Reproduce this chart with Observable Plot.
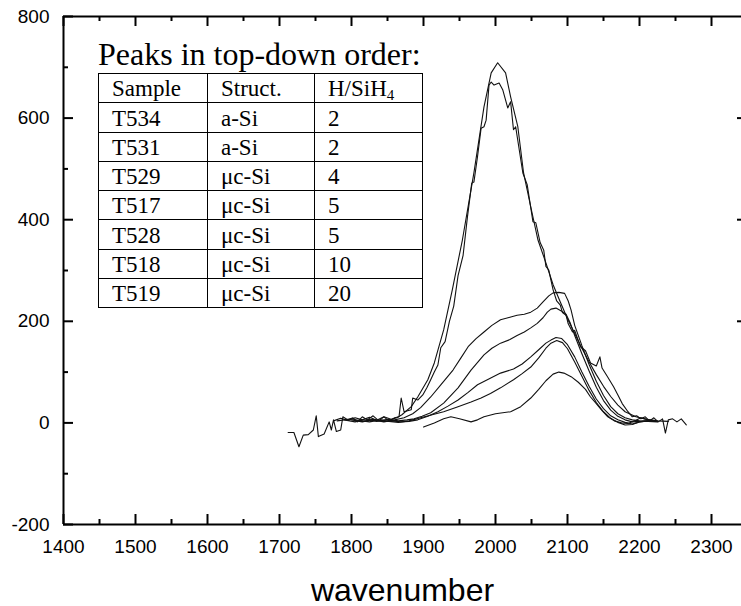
<!DOCTYPE html>
<html>
<head>
<meta charset="utf-8">
<script src="https://cdn.jsdelivr.net/npm/d3@7"></script>
<script src="https://cdn.jsdelivr.net/npm/@observablehq/plot@0.6"></script>
<style>
  body { margin: 0; background: #fff; }
  #wrap { position: relative; width: 741px; height: 606px; overflow: hidden; }
  #title { position: absolute; left: 98px; top: 38px; font-family: "Liberation Serif", "Times New Roman", serif; font-size: 32px; line-height: 32px; color: #000; white-space: nowrap; }
  #tbl { position: absolute; left: 98px; top: 73px; border-collapse: collapse; table-layout: fixed; font-family: "Liberation Serif", "Times New Roman", serif; font-size: 23px; color: #000; }
  #tbl td { border: 1px solid #000; padding: 0 0 0 13px; height: 29.25px; line-height: 27px; vertical-align: bottom; white-space: nowrap; box-sizing: border-box; }
  #tbl sub { font-size: 15px; line-height: 0; vertical-align: -4px; }
</style>
</head>
<body>
<div id="wrap">
  <div id="chart"></div>
  <div id="title">Peaks in top-down order:</div>
  <table id="tbl"></table>
</div>
<script>
// ---- data (wavenumber, absorption) ----
const T534 = [[1775,4],[1785,9],[1795,5],[1805,10],[1815,6],[1825,11],[1835,5],[1845,12],[1855,7],[1863,10],[1870,16],[1883,32],[1892,51],[1906,85],[1915,118],[1928,183],[1940,262],[1954,360],[1970,492],[1984,622],[1994,689],[2003,709],[2014,689],[2021,642],[2031,583],[2039,492],[2049,425],[2059,360],[2070,315],[2080,272],[2090,238],[2100,205],[2110,176],[2120,147],[2130,120],[2140,95],[2150,72],[2160,52],[2170,35],[2180,22],[2195,12],[2210,7],[2225,4],[2240,3]];
const T531 = [[1712,-19],[1720,-19],[1727,-47],[1733,-24],[1740,-23],[1747,-14],[1751,14],[1754,-27],[1762,-22],[1769,2],[1772,-14],[1775,6],[1779,-17],[1785,-14],[1788,12],[1795,6],[1802,10],[1808,2],[1815,12],[1822,6],[1830,14],[1838,4],[1845,12],[1852,4],[1860,10],[1866,12],[1869,49],[1873,22],[1883,26],[1885,49],[1892,45],[1899,55],[1905,70],[1910,85],[1915,100],[1920,114],[1924,148],[1930,160],[1936,200],[1942,230],[1948,290],[1955,330],[1961,405],[1967,472],[1970,474],[1975,524],[1980,580],[1984,583],[1987,596],[1991,665],[1994,671],[1998,665],[2005,669],[2010,656],[2017,620],[2021,632],[2025,577],[2028,583],[2038,492],[2044,469],[2052,396],[2056,394],[2062,355],[2067,340],[2070,308],[2074,301],[2077,281],[2080,262],[2085,240],[2090,232],[2093,217],[2098,212],[2101,195],[2107,179],[2110,182],[2118,150],[2125,142],[2132,118],[2140,112],[2145,130],[2148,108],[2156,90],[2164,71],[2170,55],[2176,38],[2184,22],[2190,12],[2196,14],[2202,8],[2208,12],[2214,4],[2220,10],[2226,2],[2232,8],[2236,-20],[2240,6],[2246,8],[2252,2],[2258,8],[2265,-4]];
const T529 = [[1780,4],[1800,8],[1815,3],[1830,6],[1845,2],[1860,6],[1873,10],[1885,18],[1896,30],[1910,51],[1924,75],[1941,104],[1952,128],[1962,150],[1973,166],[1984,179],[1995,192],[2007,203],[2020,208],[2030,212],[2040,214],[2049,218],[2058,226],[2066,238],[2074,250],[2080,256],[2088,257],[2096,255],[2101,240],[2105,222],[2110,192],[2120,152],[2130,115],[2140,82],[2150,54],[2160,32],[2170,18],[2180,10],[2190,6],[2200,4],[2212,3],[2225,2]];
const T517 = [[1790,6],[1805,2],[1820,8],[1835,3],[1850,7],[1865,4],[1877,6],[1887,8],[1898,13],[1910,20],[1928,39],[1948,69],[1966,104],[1984,134],[1995,147],[2007,157],[2020,164],[2030,172],[2040,179],[2049,187],[2058,196],[2066,207],[2072,218],[2077,224],[2084,226],[2092,220],[2098,214],[2104,196],[2110,172],[2120,136],[2130,102],[2140,70],[2150,44],[2160,25],[2170,13],[2180,6],[2190,2],[2200,3],[2212,4],[2225,3]];
const T528 = [[1800,6],[1815,2],[1830,7],[1845,3],[1858,4],[1868,2],[1880,3],[1892,6],[1906,13],[1920,22],[1934,33],[1948,45],[1962,60],[1975,75],[1990,86],[2007,98],[2025,106],[2037,116],[2049,130],[2060,144],[2070,157],[2077,163],[2084,168],[2092,166],[2100,154],[2110,130],[2120,100],[2130,72],[2140,47],[2150,28],[2160,14],[2170,6],[2180,1],[2190,-2],[2200,2],[2212,4],[2222,3]];
const T518 = [[1810,5],[1825,2],[1840,6],[1852,3],[1865,1],[1880,4],[1896,10],[1912,16],[1928,22],[1946,31],[1966,41],[1980,49],[1993,58],[2007,69],[2025,85],[2037,97],[2049,110],[2060,128],[2070,147],[2077,157],[2085,162],[2093,158],[2100,146],[2110,120],[2120,92],[2130,64],[2140,40],[2150,22],[2160,9],[2170,1],[2180,-4],[2190,-3],[2200,2],[2212,4],[2222,3]];
const T519 = [[1900,-8],[1915,0],[1928,8],[1938,12],[1950,8],[1966,2],[1975,6],[1984,12],[2000,18],[2021,22],[2035,32],[2049,49],[2060,66],[2070,83],[2080,96],[2088,100],[2095,98],[2105,91],[2115,80],[2125,66],[2132,51],[2140,38],[2148,24],[2156,12],[2165,4],[2175,0],[2184,-1],[2195,5],[2202,10],[2212,6],[2222,4]];

// table contents
const samples = ["T534", "T531", "T529", "T517", "T528", "T518", "T519"];
const structs = ["a-Si", "a-Si", "μc-Si", "μc-Si", "μc-Si", "μc-Si", "μc-Si"];
const ratios  = ["2", "2", "4", "5", "5", "10", "20"];
const tableTitle = "Peaks in top-down order:";

// axes
const xDomain = [1400, 2350];
const yDomain = [-200, 800];
const xMajor = [1400, 1500, 1600, 1700, 1800, 1900, 2000, 2100, 2200, 2300];
const xTickLabels = ["1400", "1500", "1600", "1700", "1800", "1900", "2000", "2100", "2200", "2300"];
const xMinor = [1450, 1550, 1650, 1750, 1850, 1950, 2050, 2150, 2250];
const yMajor = [-200, 0, 200, 400, 600, 800];
const yTickLabels = ["-200", "0", "200", "400", "600", "800"];
const yMinor = [-100, 100, 300, 500, 700];
const yRightTicks = [0, 200, 400, 600];
const xLabel = "wavenumber";

// ---- build ----
const seriesList = [["T534", T534], ["T531", T531], ["T529", T529], ["T517", T517], ["T528", T528], ["T518", T518], ["T519", T519]];
const rows = seriesList.flatMap(([name, pts]) => pts.map(([w, a]) => ({sample: name, w, a})));

const W = 741, H = 606;
const mL = 63, mT = 16, mB = 82;
const xRange = [mL, 747];
const yRange = [H - mB, mT];
const uxPerPx = (xDomain[1] - xDomain[0]) / (xRange[1] - xRange[0]);
const uyPerPx = (yDomain[1] - yDomain[0]) / (yRange[0] - yRange[1]);
const major = 10, minor = 5;

const chart = Plot.plot({
  width: W, height: H,
  marginLeft: mL, marginRight: 0, marginTop: mT, marginBottom: mB,
  x: {domain: xDomain, range: xRange},
  y: {domain: yDomain, range: yRange},
  style: {fontFamily: "'Liberation Sans', Arial, sans-serif", background: "#fff", color: "#000"},
  marks: [
    Plot.line(rows, {x: "w", y: "a", z: "sample", stroke: "#111", strokeWidth: 1.1}),
    // frame
    Plot.ruleY([yDomain[1], yDomain[0]], {stroke: "#000", strokeWidth: 2}),
    Plot.ruleX([xDomain[0], xDomain[1]], {stroke: "#000", strokeWidth: 2}),
    // bottom ticks (inward)
    Plot.ruleX(xMajor, {x: d => d, y1: yDomain[0], y2: yDomain[0] + major * uyPerPx, stroke: "#000", strokeWidth: 2}),
    Plot.ruleX(xMinor, {x: d => d, y1: yDomain[0], y2: yDomain[0] + minor * uyPerPx, stroke: "#000", strokeWidth: 2}),
    // top ticks (inward)
    Plot.ruleX(xMajor, {x: d => d, y1: yDomain[1], y2: yDomain[1] - major * uyPerPx, stroke: "#000", strokeWidth: 2}),
    Plot.ruleX(xMinor, {x: d => d, y1: yDomain[1], y2: yDomain[1] - minor * uyPerPx, stroke: "#000", strokeWidth: 2}),
    // left ticks (inward)
    Plot.ruleY(yMajor, {y: d => d, x1: xDomain[0], x2: xDomain[0] + major * uxPerPx, stroke: "#000", strokeWidth: 2}),
    Plot.ruleY(yMinor, {y: d => d, x1: xDomain[0], x2: xDomain[0] + minor * uxPerPx, stroke: "#000", strokeWidth: 2}),
    // right ticks (inward)
    Plot.ruleY(yRightTicks, {y: d => d, x1: xDomain[1] - major * uxPerPx, x2: xDomain[1], stroke: "#000", strokeWidth: 2}),
    // tick labels
    Plot.axisX(xMajor, {anchor: "bottom", tickSize: 0, tickPadding: 15, fontSize: 19, label: null,
      tickFormat: d => xTickLabels[xMajor.indexOf(d)]}),
    Plot.axisY(yMajor, {anchor: "left", tickSize: 0, tickPadding: 14, fontSize: 19, label: null,
      tickFormat: d => yTickLabels[yMajor.indexOf(d)]}),
    // axis title
    Plot.text([xLabel], {text: d => d, frameAnchor: "bottom", dy: 76, lineAnchor: "bottom", fontSize: 32, fill: "#000"})
  ]
});
document.getElementById("chart").appendChild(chart);

// table
document.getElementById("title").textContent = tableTitle;
const tbl = document.getElementById("tbl");
const colW = [109, 107, 108];
const cg = document.createElement("colgroup");
colW.forEach(w => { const c = document.createElement("col"); c.style.width = w + "px"; cg.appendChild(c); });
tbl.appendChild(cg);
const head = document.createElement("tr");
[["Sample"], ["Struct."], ["H/SiH", "4"]].forEach(([t, s]) => {
  const td = document.createElement("td");
  td.appendChild(document.createTextNode(t));
  if (s) { const sb = document.createElement("sub"); sb.textContent = s; td.appendChild(sb); }
  head.appendChild(td);
});
tbl.appendChild(head);
samples.forEach((s, i) => {
  const tr = document.createElement("tr");
  [s, structs[i], ratios[i]].forEach(v => { const td = document.createElement("td"); td.textContent = v; tr.appendChild(td); });
  tbl.appendChild(tr);
});
</script>
</body>
</html>
